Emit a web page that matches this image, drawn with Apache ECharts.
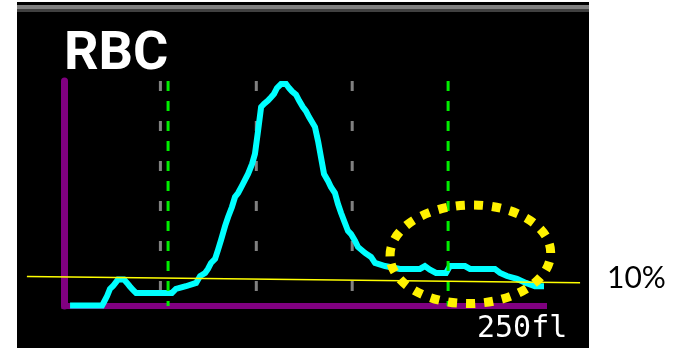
<!DOCTYPE html>
<html>
<head>
<meta charset="utf-8">
<script src="https://cdn.jsdelivr.net/npm/echarts@6/dist/echarts.min.js"></script>
<style>
  html, body { margin: 0; padding: 0; background: #ffffff; }
  #chart { width: 674px; height: 348px; }
</style>
</head>
<body>
<div id="chart"></div>
<script>
// RBC volume distribution: cell size in fl, frequency as % of the main peak
const sizeFl = [2.9, 19.6, 20.6, 22.2, 23.7, 25.3, 27.9, 31.0, 32.6, 34.1,
  35.7, 37.3, 52.9, 56.0, 58.1, 63.3, 68.6, 70.7, 73.3, 74.8,
  76.4, 78.5, 80.0, 81.6, 83.7, 85.3, 87.3, 88.9, 90.5, 92.5,
  94.1, 95.7, 97.8, 99.3, 100.9, 102.5, 104.0, 106.1, 107.7, 109.2,
  110.8, 112.9, 115.5, 117.1, 118.6, 120.7, 122.3, 124.3, 125.9, 127.5,
  130.6, 132.2, 133.7, 135.3, 137.4, 138.9, 141.0, 142.6, 144.2, 146.2,
  147.8, 149.4, 151.5, 153.0, 156.7, 159.8, 161.9, 167.1, 174.9, 185.3,
  187.9, 190.5, 193.7, 198.9, 201.0, 208.8, 211.4, 224.4, 227.1, 230.7,
  235.9, 240.6, 245.3, 250.0];
const countPct = [0.2, 0.2, 1.8, 4.5, 7.7, 9.0, 11.9, 11.9, 10.4, 8.8,
  7.2, 5.9, 5.9, 5.9, 7.7, 8.9, 10.4, 13.5, 14.9, 16.7,
  19.4, 21.2, 25.2, 29.7, 36.0, 40.1, 44.6, 49.1, 50.9, 54.1,
  56.8, 59.5, 64.0, 68.5, 78.8, 89.6, 91.0, 92.5, 94.0, 95.5,
  98.2, 100, 100, 98.2, 96.7, 95.2, 92.5, 89.6, 87.8, 85.1,
  80.6, 74.3, 67.1, 59.5, 56.3, 53.6, 50.9, 45.9, 41.9, 37.4,
  33.8, 32.4, 29.3, 26.6, 23.9, 22.1, 19.4, 18.0, 16.7, 16.7,
  18.0, 16.4, 14.9, 14.9, 18.0, 18.0, 16.7, 16.7, 14.9, 13.5,
  12.2, 10.4, 8.9, 8.9];

// Scale and reference lines
const X_MIN = 0, X_MAX = 250, Y_MAX = 101.35;
const gridLinesFl = [50, 100, 150];          // gray reference lines
const discriminatorsFl = [54, 200];          // green discriminators
const thresholdEnds = [[-19.6, 13.3], [268.8, 10.5]]; // hand-drawn 10% level
const ellipseCenter = [211.6, 23.3];         // region of interest
const ellipseRadius = [41.9, 22.2];

const titleText = 'RBC';
const rangeText = '250fl';
const thresholdText = '10%';

const chart = echarts.init(document.getElementById('chart'));

chart.setOption({
  animation: false,
  backgroundColor: '#ffffff',
  grid: { left: 64.5, right: 130, top: 81, bottom: 42, containLabel: false },
  xAxis: {
    type: 'value', min: X_MIN, max: X_MAX,
    axisLine: { show: true, onZero: false, lineStyle: { color: '#800080', width: 6, cap: 'square' } },
    axisTick: { show: false }, axisLabel: { show: false }, splitLine: { show: false }
  },
  yAxis: {
    type: 'value', min: 0, max: Y_MAX,
    axisLine: { show: true, onZero: false, lineStyle: { color: '#800080', width: 7 } },
    axisTick: { show: false }, axisLabel: { show: false }, splitLine: { show: false }
  },
  series: [{
    type: 'line',
    data: sizeFl.map((x, i) => [x, countPct[i]]),
    showSymbol: false,
    symbol: 'none',
    z: 2,
    lineStyle: { color: '#00ffff', width: 6, cap: 'butt', join: 'miter' }
  }]
});

function px(pt) { return chart.convertToPixel({ gridIndex: 0 }, pt); }

function vLine(xv, color, dash, z) {
  const a = px([xv, Y_MAX]);
  const b = px([xv, 0]);
  return {
    type: 'line', z: z, silent: true,
    shape: { x1: a[0], y1: a[1], x2: b[0], y2: b[1] },
    style: { stroke: color, lineWidth: 3, lineDash: dash, lineCap: 'butt' }
  };
}

const graphics = [];
// instrument display panel
graphics.push({ type: 'rect', z: -5, silent: true,
  shape: { x: 17, y: 2, width: 572, height: 346 }, style: { fill: '#000000' } });
graphics.push({ type: 'rect', z: -4, silent: true,
  shape: { x: 17, y: 5, width: 572, height: 4 }, style: { fill: '#808080' } });
graphics.push({ type: 'rect', z: -4, silent: true,
  shape: { x: 17, y: 9, width: 572, height: 3 }, style: { fill: '#404040' } });

gridLinesFl.forEach(v => graphics.push(vLine(v, '#808080', [10, 30], 1)));
discriminatorsFl.forEach(v => graphics.push(vLine(v, '#00ee00', [10, 10], 3)));

const t0 = px(thresholdEnds[0]);
const t1 = px(thresholdEnds[1]);
graphics.push({ type: 'line', z: 4, silent: true,
  shape: { x1: t0[0], y1: t0[1], x2: t1[0], y2: t1[1] },
  style: { stroke: '#ffff00', lineWidth: 1.6 } });

const ec = px(ellipseCenter);
const er = px([ellipseCenter[0] + ellipseRadius[0], ellipseCenter[1] + ellipseRadius[1]]);
graphics.push({ type: 'ellipse', z: 5, silent: true,
  x: ec[0], y: ec[1], rotation: 0.025,
  shape: { cx: 0, cy: 0, rx: er[0] - ec[0], ry: ec[1] - er[1] },
  style: { fill: null, stroke: '#fff200', lineWidth: 9, lineDash: [9, 9], lineCap: 'butt' } });

graphics.push({ type: 'text', z: 6, silent: true, x: 64, y: 82,
  style: { text: titleText, fill: '#ffffff', font: 'bold 54px Roboto',
    textAlign: 'left', textVerticalAlign: 'bottom' } });
graphics.push({ type: 'text', z: 6, silent: true, x: 477, y: 344,
  style: { text: rangeText, fill: '#ffffff', font: '30px "DejaVu Sans Mono"',
    textAlign: 'left', textVerticalAlign: 'bottom' } });
graphics.push({ type: 'text', z: 6, silent: true, x: 607, y: 293,
  style: { text: thresholdText, fill: '#000000', font: '30px Lato',
    textAlign: 'left', textVerticalAlign: 'bottom' } });

chart.setOption({ graphic: { elements: graphics } });
</script>
</body>
</html>
